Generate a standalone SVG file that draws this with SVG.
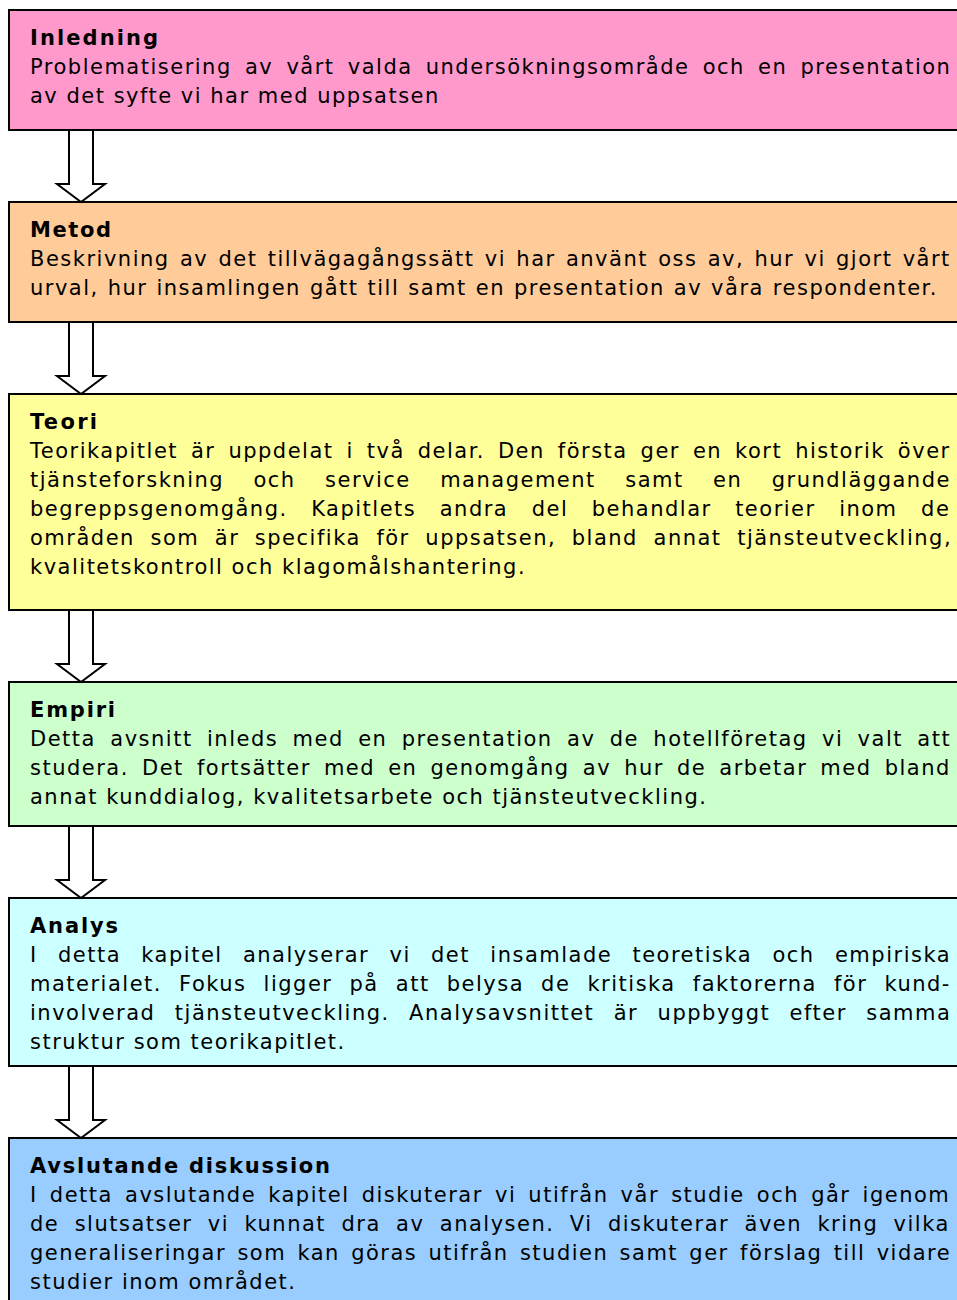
<svg xmlns="http://www.w3.org/2000/svg" width="957" height="1300" viewBox="0 0 957 1300">
<style>
.box{stroke:#000;stroke-width:2}
.t{font-family:"DejaVu Sans",Verdana,sans-serif;font-size:21px;fill:#000;letter-spacing:1.5px}
.h{font-weight:bold;letter-spacing:0}
.arr{fill:#fff;stroke:#000;stroke-width:2;stroke-linejoin:miter}
</style>
<rect width="957" height="1300" fill="#fff"/>
<g id="inledning">
<rect class="box" x="9" y="10" width="960" height="120" fill="#FF99CC"/>
<text class="t h" x="30" y="45" textLength="128" lengthAdjust="spacing">Inledning</text>
<text class="t" x="30" y="74" word-spacing="5">Problematisering av vårt valda undersökningsområde och en presentation</text>
<text class="t" x="30" y="103">av det syfte vi har med uppsatsen</text>
</g>
<g id="metod">
<rect class="box" x="9" y="202" width="960" height="120" fill="#FFCC99"/>
<text class="t h" x="30" y="237" textLength="81" lengthAdjust="spacing">Metod</text>
<text class="t" x="30" y="266" word-spacing="2.1">Beskrivning av det tillvägagångssätt vi har använt oss av, hur vi gjort vårt</text>
<text class="t" x="30" y="295" word-spacing="0.8">urval, hur insamlingen gått till samt en presentation av våra respondenter.</text>
</g>
<g id="teori">
<rect class="box" x="9" y="394" width="960" height="216" fill="#FFFF99"/>
<text class="t h" x="30" y="429" textLength="67" lengthAdjust="spacing">Teori</text>
<text class="t" x="30" y="458" word-spacing="4.75">Teorikapitlet är uppdelat i två delar. Den första ger en kort historik över</text>
<text class="t" x="30" y="487" word-spacing="21.2">tjänsteforskning och service management samt en grundläggande</text>
<text class="t" x="30" y="516" word-spacing="15.3">begreppsgenomgång. Kapitlets andra del behandlar teorier inom de</text>
<text class="t" x="30" y="545" word-spacing="7.4">områden som är specifika för uppsatsen, bland annat tjänsteutveckling,</text>
<text class="t" x="30" y="574">kvalitetskontroll och klagomålshantering.</text>
</g>
<g id="empiri">
<rect class="box" x="9" y="682" width="960" height="144" fill="#CCFFCC"/>
<text class="t h" x="30" y="717" textLength="85" lengthAdjust="spacing">Empiri</text>
<text class="t" x="30" y="746" word-spacing="6.2">Detta avsnitt inleds med en presentation av de hotellföretag vi valt att</text>
<text class="t" x="30" y="775" word-spacing="4.9">studera. Det fortsätter med en genomgång av hur de arbetar med bland</text>
<text class="t" x="30" y="804">annat kunddialog, kvalitetsarbete och tjänsteutveckling.</text>
</g>
<g id="analys">
<rect class="box" x="9" y="898" width="960" height="168" fill="#CCFFFF"/>
<text class="t h" x="30" y="933" textLength="88" lengthAdjust="spacing">Analys</text>
<text class="t" x="30" y="962" word-spacing="12.1">I detta kapitel analyserar vi det insamlade teoretiska och empiriska</text>
<text class="t" x="30" y="991" word-spacing="8.9">materialet. Fokus ligger på att belysa de kritiska faktorerna för kund-</text>
<text class="t" x="30" y="1020" word-spacing="11.2">involverad tjänsteutveckling. Analysavsnittet är uppbyggt efter samma</text>
<text class="t" x="30" y="1049">struktur som teorikapitlet.</text>
</g>
<g id="avslutande">
<rect class="box" x="9" y="1138" width="960" height="170" fill="#99CCFF"/>
<text class="t h" x="30" y="1173" textLength="300" lengthAdjust="spacing">Avslutande diskussion</text>
<text class="t" x="30" y="1202" word-spacing="3.95">I detta avslutande kapitel diskuterar vi utifrån vår studie och går igenom</text>
<text class="t" x="30" y="1231" word-spacing="7.2">de slutsatser vi kunnat dra av analysen. Vi diskuterar även kring vilka</text>
<text class="t" x="30" y="1260" word-spacing="3.1">generaliseringar som kan göras utifrån studien samt ger förslag till vidare</text>
<text class="t" x="30" y="1289">studier inom området.</text>
</g>
<g id="connectors">
<polygon class="arr" points="69,130 93,130 93,184 105,184 81,202 57,184 69,184"/>
<polygon class="arr" points="69,322 93,322 93,376 105,376 81,394 57,376 69,376"/>
<polygon class="arr" points="69,610 93,610 93,664 105,664 81,682 57,664 69,664"/>
<polygon class="arr" points="69,826 93,826 93,880 105,880 81,898 57,880 69,880"/>
<polygon class="arr" points="69,1066 93,1066 93,1120 105,1120 81,1138 57,1120 69,1120"/>
</g>
</svg>
